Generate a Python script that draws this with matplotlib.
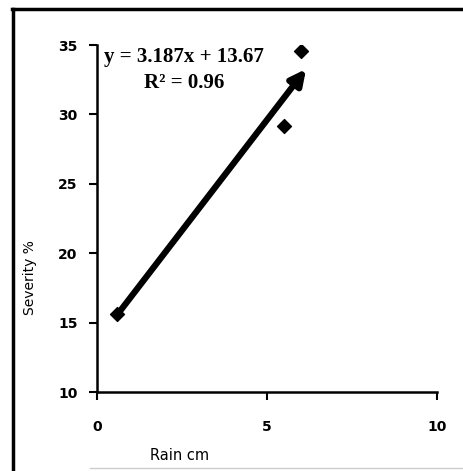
import numpy as np
import matplotlib
matplotlib.use("Agg")
import matplotlib.pyplot as plt
from matplotlib.lines import Line2D

# rainfall (cm) vs disease severity (%)
rain_cm = [0.6, 5.5, 6.0]
severity = [15.6, 29.2, 34.6]
slope, intercept = 3.187, 13.67
r_squared = 0.96
x_ticks = [0, 5, 10]
y_ticks = [10, 15, 20, 25, 30, 35]

W, H = 463, 471
fig = plt.figure(figsize=(W / 100, H / 100), dpi=100)
ax = fig.add_axes([97 / W, 1 - 392 / H, 340 / W, 347 / H])

ax.scatter(rain_cm, severity, marker="D", s=50, color="black", zorder=3)

# trend line drawn as a heavy arrow
x0, x1 = rain_cm[0], 6.15
ax.annotate("", xy=(x1, slope * x1 + intercept), xytext=(x0, slope * x0 + intercept),
            arrowprops=dict(arrowstyle="-|>,head_length=0.9,head_width=0.45",
                            color="black", lw=4.5, shrinkA=0, shrinkB=0))

ax.text(2.56, 34.1, f"y = {slope}x + {intercept}", ha="center", va="center",
        fontsize=15, fontweight="bold", family="Liberation Serif")
ax.text(2.56, 32.25, f"R² = {r_squared}", ha="center", va="center",
        fontsize=15, fontweight="bold", family="Liberation Serif")

ax.set_xlim(0, 10)
ax.set_ylim(10, 35)
ax.set_xticks(x_ticks)
ax.set_yticks(y_ticks)
for lab in ax.get_xticklabels() + ax.get_yticklabels():
    lab.set_fontweight("bold")
    lab.set_fontsize(10)
ax.tick_params(axis="both", direction="out", length=6, width=1.5, color="black")
ax.tick_params(axis="x", pad=14)
ax.tick_params(axis="y", pad=8)

for side in ("top", "right"):
    ax.spines[side].set_visible(False)
for side in ("left", "bottom"):
    ax.spines[side].set_linewidth(1.8)

ax.set_xlabel("Rain cm", fontsize=10.5)
ax.xaxis.set_label_coords(0.244, -0.16)
ax.set_ylabel("Severity %", fontsize=10)
ax.yaxis.set_label_coords(-0.176, 0.33)

# outer frame
fig.add_artist(Line2D([12 / W, 1], [1 - 8.5 / H] * 2, transform=fig.transFigure,
                      color="black", lw=2.5))
fig.add_artist(Line2D([13 / W] * 2, [0, 1 - 8.5 / H], transform=fig.transFigure,
                      color="black", lw=2.5))
fig.add_artist(Line2D([90 / W, 1], [1 - 468 / H] * 2, transform=fig.transFigure,
                      color="#cccccc", lw=1))

fig.savefig("out.png", dpi=100)
